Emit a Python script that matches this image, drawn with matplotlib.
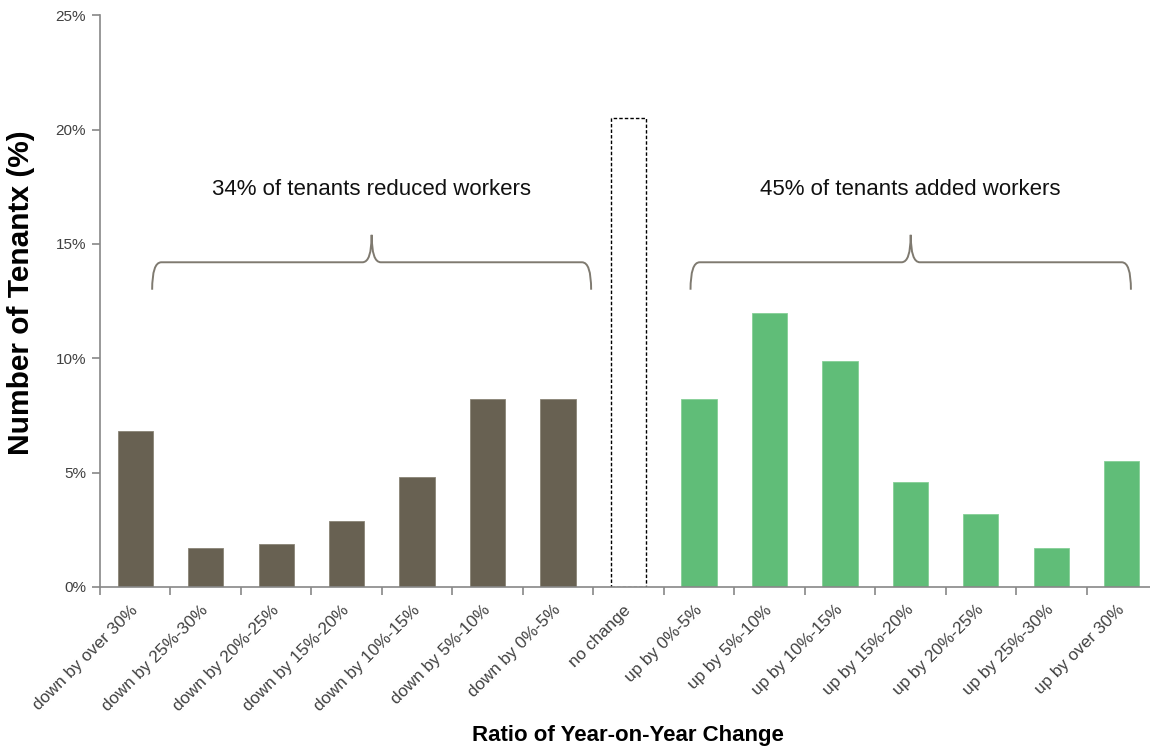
import matplotlib
matplotlib.use("Agg")
import matplotlib.pyplot as plt
import matplotlib.transforms as mtransforms
from matplotlib.path import Path
from matplotlib.patches import PathPatch
from matplotlib.ticker import FuncFormatter, MultipleLocator

categories = ["down by over 30%", "down by 25%-30%", "down by 20%-25%", "down by 15%-20%",
              "down by 10%-15%", "down by 5%-10%", "down by 0%-5%", "no change",
              "up by 0%-5%", "up by 5%-10%", "up by 10%-15%", "up by 15%-20%",
              "up by 20%-25%", "up by 25%-30%", "up by over 30%"]
values = [6.8, 1.7, 1.9, 2.9, 4.8, 8.2, 8.2, 20.5,
          8.2, 12.0, 9.9, 4.6, 3.2, 1.7, 5.5]
groups = ["down"] * 7 + ["none"] + ["up"] * 7
annotations = ["34% of tenants reduced workers", "45% of tenants added workers"]

plt.rcParams['font.family'] = ['Liberation Sans', 'DejaVu Sans']

fig = plt.figure(figsize=(11.5, 7.47), dpi=100)
ax = fig.add_axes([100/1150, 1-587/747, 1057/1150, (587-15.3)/747])

brown = "#686152"
green = "#60BD78"
for i, (v, g) in enumerate(zip(values, groups)):
    if g == "down":
        ax.bar(i, v, width=0.5, color=brown, edgecolor="#8a8476", linewidth=0.6, zorder=2)
    elif g == "up":
        ax.bar(i, v, width=0.5, color=green, edgecolor="#86cf97", linewidth=0.6, zorder=2)
    else:
        ax.bar(i, v, width=0.5, color="white", edgecolor="black", linewidth=1.0,
               linestyle=(0, (2.5, 1.5)), zorder=2)

ax.set_xlim(-0.5, len(categories) - 0.5)
ax.set_ylim(0, 25)
ax.yaxis.set_major_locator(MultipleLocator(5))
ax.yaxis.set_major_formatter(FuncFormatter(lambda v, p: f"{int(v)}%"))

ax.set_xticks([i + 0.5 for i in range(-1, len(categories))])
ax.set_xticklabels([])
ax.set_xticks(range(len(categories)), minor=True)
ax.set_xticklabels(categories, minor=True, rotation=45, ha="right", va="top",
                   rotation_mode="anchor", fontsize=12.3, color="#404040")
ax.tick_params(axis="x", which="minor", length=0, pad=11)
ax.tick_params(axis="x", which="major", length=6, color="#888888", width=1.2)
ax.tick_params(axis="y", length=6, color="#888888", width=1.2, labelsize=11,
               labelcolor="#404040", pad=4)
offset = mtransforms.ScaledTranslation(-5/100, 0, fig.dpi_scale_trans)
for lbl in ax.get_xticklabels(minor=True):
    lbl.set_transform(lbl.get_transform() + offset)

for s in ["top", "right"]:
    ax.spines[s].set_visible(False)
for s in ["left", "bottom"]:
    ax.spines[s].set_color("#888888")
    ax.spines[s].set_linewidth(1.2)

fig.text(21/1150, 1 - 293/747, "Number of Tenantx (%)", rotation=90, ha="center", va="center",
         fontsize=21.5, fontweight="bold", color="black")
fig.text(628/1150, 1 - 735/747, "Ratio of Year-on-Year Change", ha="center", va="center",
         fontsize=16, fontweight="bold", color="black")


def brace(x0, x1, yh, yt, yb, rx=0.13):
    xm = (x0 + x1) / 2
    verts = [(x0, yb), (x0, yh), (x0 + rx, yh),
             (xm - rx, yh), (xm, yh), (xm, yt),
             (xm, yh), (xm + rx, yh),
             (x1 - rx, yh), (x1, yh), (x1, yb)]
    codes = [Path.MOVETO, Path.CURVE3, Path.CURVE3,
             Path.LINETO, Path.CURVE3, Path.CURVE3,
             Path.CURVE3, Path.CURVE3,
             Path.LINETO, Path.CURVE3, Path.CURVE3]
    ax.add_patch(PathPatch(Path(verts, codes), facecolor="none", edgecolor="#7f7a70",
                           linewidth=1.4, zorder=3))
    return xm


xm1 = brace(0.24, 6.47, 14.2, 15.4, 13.0)
xm2 = brace(7.88, 14.13, 14.2, 15.4, 13.0)
ax.text(xm1, 17.4, annotations[0], ha="center", va="center", fontsize=16, color="#111111")
ax.text(xm2, 17.4, annotations[1], ha="center", va="center", fontsize=16, color="#111111")

fig.savefig("out.png", dpi=100)
